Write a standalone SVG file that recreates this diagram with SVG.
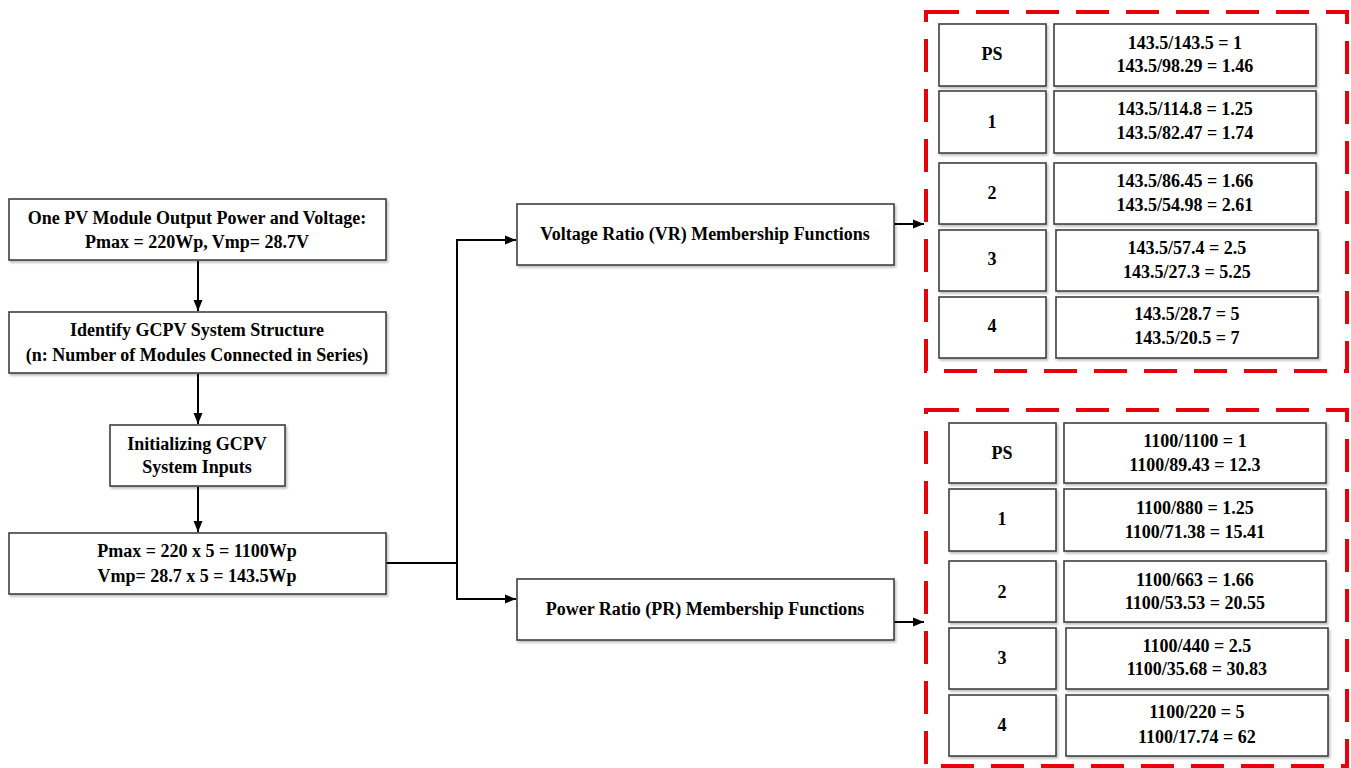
<svg xmlns="http://www.w3.org/2000/svg" width="1351" height="768" viewBox="0 0 1351 768">
<defs>
<marker id="arr" markerUnits="userSpaceOnUse" markerWidth="12" markerHeight="10" refX="11" refY="5" orient="auto"><path d="M0,0.5 L11,5 L0,9.5 z" fill="#000"/></marker>
<filter id="sh" x="-5%" y="-10%" width="110%" height="130%"><feDropShadow dx="1.5" dy="2" stdDeviation="1" flood-color="#000" flood-opacity="0.25"/></filter>
</defs>
<style>
.b{fill:#fff;stroke:#404040;stroke-width:1.6;filter:url(#sh)}
.t{font-family:"Liberation Serif","Times New Roman",serif;font-weight:bold;font-size:18px;fill:#000;text-anchor:middle}
.c{fill:none;stroke:#000;stroke-width:2}
.d{fill:none;stroke:#e8000b;stroke-width:4;stroke-dasharray:33 17}
</style>
<rect width="1351" height="768" fill="#fff"/>
<g id="connectors">
<line class="c" x1="198" y1="261" x2="198" y2="311" marker-end="url(#arr)"/>
<line class="c" x1="198" y1="374" x2="198" y2="424" marker-end="url(#arr)"/>
<line class="c" x1="198" y1="487" x2="198" y2="532" marker-end="url(#arr)"/>
<polyline class="c" points="386,563 457,563 457,240 516,240" marker-end="url(#arr)"/>
<polyline class="c" points="457,563 457,599 516,599" marker-end="url(#arr)"/>
<line class="c" x1="894" y1="224" x2="924" y2="224" marker-end="url(#arr)"/>
<line class="c" x1="894" y1="622" x2="924" y2="622" marker-end="url(#arr)"/>
</g>
<g id="n1"><rect class="b" x="9" y="199" width="377" height="61"/><text class="t" x="197" y="224">One PV Module Output Power and Voltage:</text><text class="t" x="197" y="248">Pmax = 220Wp, Vmp= 28.7V</text></g>
<g id="n2"><rect class="b" x="9" y="312" width="377" height="61"/><text class="t" x="197" y="336">Identify GCPV System Structure</text><text class="t" x="197" y="361">(n: Number of Modules Connected in Series)</text></g>
<g id="n3"><rect class="b" x="110" y="425" width="175" height="61"/><text class="t" x="197" y="450">Initializing GCPV</text><text class="t" x="197" y="473">System Inputs</text></g>
<g id="n4"><rect class="b" x="9" y="533" width="377" height="61"/><text class="t" x="197" y="557">Pmax = 220 x 5 = 1100Wp</text><text class="t" x="197" y="582">Vmp= 28.7 x 5 = 143.5Wp</text></g>
<g id="vr"><rect class="b" x="517" y="204" width="377" height="61"/><text class="t" x="705" y="240">Voltage Ratio (VR) Membership Functions</text></g>
<g id="pr"><rect class="b" x="517" y="579" width="377" height="61"/><text class="t" x="705" y="615">Power Ratio (PR) Membership Functions</text></g>
<g id="vrgroup">
<rect class="d" x="926" y="12" width="421" height="359"/>
<rect class="b" x="939" y="24" width="107" height="62"/><text class="t" x="992" y="60">PS</text>
<rect class="b" x="1054" y="24" width="262" height="62"/><text class="t" x="1185" y="49">143.5/143.5 = 1</text><text class="t" x="1185" y="72">143.5/98.29 = 1.46</text>
<rect class="b" x="939" y="91" width="107" height="62"/><text class="t" x="992" y="128">1</text>
<rect class="b" x="1054" y="91" width="262" height="62"/><text class="t" x="1185" y="115">143.5/114.8 = 1.25</text><text class="t" x="1185" y="139">143.5/82.47 = 1.74</text>
<rect class="b" x="939" y="163" width="107" height="61"/><text class="t" x="992" y="199">2</text>
<rect class="b" x="1054" y="163" width="262" height="61"/><text class="t" x="1185" y="187">143.5/86.45 = 1.66</text><text class="t" x="1185" y="211">143.5/54.98 = 2.61</text>
<rect class="b" x="939" y="230" width="107" height="61"/><text class="t" x="992" y="265">3</text>
<rect class="b" x="1056" y="230" width="262" height="61"/><text class="t" x="1187" y="254">143.5/57.4 = 2.5</text><text class="t" x="1187" y="278">143.5/27.3 = 5.25</text>
<rect class="b" x="939" y="297" width="107" height="61"/><text class="t" x="992" y="332">4</text>
<rect class="b" x="1056" y="297" width="262" height="61"/><text class="t" x="1187" y="320">143.5/28.7 = 5</text><text class="t" x="1187" y="344">143.5/20.5 = 7</text>
</g>
<g id="prgroup">
<rect class="d" x="926" y="410" width="421" height="356"/>
<rect class="b" x="949" y="423" width="107" height="60"/><text class="t" x="1002" y="459">PS</text>
<rect class="b" x="1064" y="423" width="262" height="60"/><text class="t" x="1195" y="447">1100/1100 = 1</text><text class="t" x="1195" y="471">1100/89.43 = 12.3</text>
<rect class="b" x="949" y="489" width="107" height="62"/><text class="t" x="1002" y="525">1</text>
<rect class="b" x="1064" y="489" width="262" height="62"/><text class="t" x="1195" y="514">1100/880 = 1.25</text><text class="t" x="1195" y="538">1100/71.38 = 15.41</text>
<rect class="b" x="949" y="561" width="107" height="61"/><text class="t" x="1002" y="598">2</text>
<rect class="b" x="1064" y="561" width="262" height="61"/><text class="t" x="1195" y="586">1100/663 = 1.66</text><text class="t" x="1195" y="609">1100/53.53 = 20.55</text>
<rect class="b" x="949" y="628" width="107" height="61"/><text class="t" x="1002" y="664">3</text>
<rect class="b" x="1066" y="628" width="262" height="61"/><text class="t" x="1197" y="652">1100/440 = 2.5</text><text class="t" x="1197" y="675">1100/35.68 = 30.83</text>
<rect class="b" x="949" y="695" width="107" height="61"/><text class="t" x="1002" y="731">4</text>
<rect class="b" x="1066" y="695" width="262" height="61"/><text class="t" x="1197" y="718">1100/220 = 5</text><text class="t" x="1197" y="743">1100/17.74 = 62</text>
</g>
</svg>
